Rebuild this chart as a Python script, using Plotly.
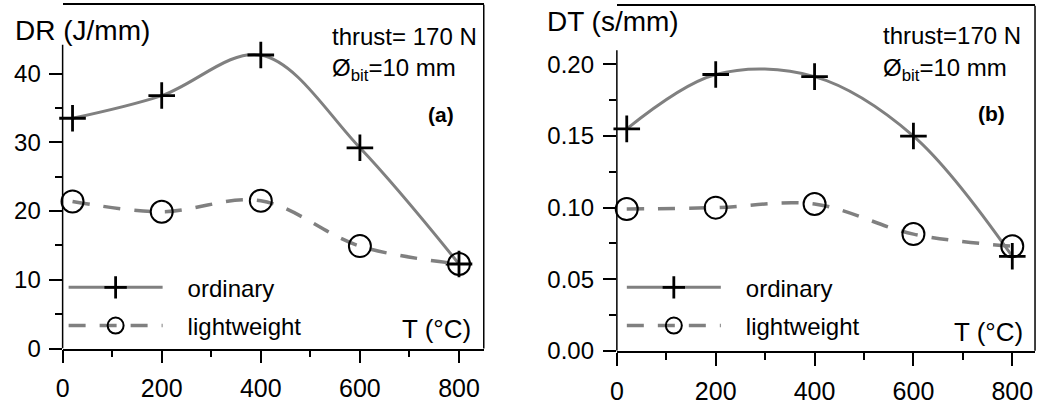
import plotly.graph_objects as go

# ---- data ----
temps = [20, 200, 400, 600, 800]
dr_ordinary = [33.5, 36.8, 42.7, 29.2, 12.3]
dr_lightweight = [21.4, 19.9, 21.5, 14.9, 12.3]
dt_ordinary = [0.155, 0.193, 0.1915, 0.150, 0.066]
dt_lightweight = [0.099, 0.100, 0.1025, 0.0815, 0.073]

x_ticks = [0, 200, 400, 600, 800]
x_minor = [100, 300, 500, 700]
dr_ticks = [0, 10, 20, 30, 40]
dr_minor = [5, 15, 25, 35]
dt_ticks = [0.00, 0.05, 0.10, 0.15, 0.20]
dt_tick_text = ["0.00", "0.05", "0.10", "0.15", "0.20"]
dt_minor = [0.025, 0.075, 0.125, 0.175]

W, H = 1038, 408
FONT = "Liberation Sans, Arial, sans-serif"
GRAY = "#808080"


def px(x):
    return x / W


def py(y):
    return 1 - y / H


fig = go.Figure()

def add_pair(xa, ya, ordv, lightv, legend_name):
    fig.add_trace(go.Scatter(
        x=temps, y=ordv, mode="lines+markers", name="&nbsp;&nbsp;&nbsp;ordinary",
        xaxis=xa, yaxis=ya, legend=legend_name, legendgroup=legend_name + "o",
        line=dict(color=GRAY, width=3, shape="spline"),
        marker=dict(symbol="cross-thin", size=19, color="black",
                    line=dict(color="black", width=2.8)),
        cliponaxis=False,
    ))
    fig.add_trace(go.Scatter(
        x=temps, y=lightv, mode="lines+markers", name="&nbsp;&nbsp;&nbsp;lightweight",
        xaxis=xa, yaxis=ya, legend=legend_name, legendgroup=legend_name + "l",
        line=dict(color=GRAY, width=3.5, shape="spline", dash="17px,14px"),
        marker=dict(symbol="circle-open", size=22, color="black",
                    line=dict(color="black", width=2)),
        cliponaxis=False,
    ))

add_pair("x", "y", dr_ordinary, dr_lightweight, "legend")
add_pair("x2", "y2", dt_ordinary, dt_lightweight, "legend2")

tick_common = dict(ticks="outside", ticklen=13, tickwidth=1.5, tickcolor="black",
                   showgrid=False, zeroline=False)
minor_x = dict(tickvals=x_minor, ticks="outside", ticklen=7, tickwidth=1.5,
               tickcolor="black", showgrid=False)

fig.update_layout(
    width=W, height=H,
    margin=dict(l=0, r=0, t=0, b=0),
    plot_bgcolor="white", paper_bgcolor="white",
    font=dict(family=FONT, color="black", size=24),
    xaxis=dict(domain=[px(56), px(480)], range=[0, 850], anchor="y",
               tickvals=x_ticks, tickfont=dict(size=25), minor=minor_x,
               ticklabelstandoff=4,
               showline=True, mirror=True, linecolor="black", linewidth=1.5,
               **tick_common),
    yaxis=dict(domain=[py(360), py(5)], range=[0, 50], anchor="x",
               tickvals=dr_ticks, tickfont=dict(size=24), ticklabelstandoff=3,
               minor=dict(tickvals=dr_minor, ticks="outside", ticklen=7,
                          tickwidth=1.5, tickcolor="black", showgrid=False),
               showline=False, **tick_common),
    xaxis2=dict(domain=[px(614), px(1035)], range=[0, 846], anchor="y2",
                tickvals=x_ticks, tickfont=dict(size=25), minor=minor_x,
                ticklabelstandoff=4,
                showline=True, mirror=True, linecolor="black", linewidth=1.5,
                **tick_common),
    yaxis2=dict(domain=[py(362.3), py(6)], range=[0, 0.241], anchor="x2",
                tickvals=dt_ticks, ticktext=dt_tick_text, tickfont=dict(size=24),
                ticklabelstandoff=4,
                minor=dict(tickvals=dt_minor, ticks="outside", ticklen=7,
                           tickwidth=1.5, tickcolor="black", showgrid=False),
                showline=False, **tick_common),
    legend=dict(x=px(57), y=py(274), xanchor="left", yanchor="top",
                bgcolor="rgba(0,0,0,0)", font=dict(size=24), itemwidth=94,
                traceorder="grouped", tracegroupgap=4),
    legend2=dict(x=px(619), y=py(274), xanchor="left", yanchor="top",
                 bgcolor="rgba(0,0,0,0)", font=dict(size=24), itemwidth=94,
                 traceorder="grouped", tracegroupgap=4),
    showlegend=True,
)

# frame pieces: partial left axis line and right border
line_style = dict(color="black", width=1.5)
fig.add_shape(type="line", xref="x domain", yref="y", x0=0, x1=0, y0=0, y1=44.2, line=line_style)
fig.add_shape(type="line", xref="x domain", yref="y domain", x0=1, x1=1, y0=0, y1=1, line=line_style)
fig.add_shape(type="line", xref="x2 domain", yref="y2", x0=0, x1=0, y0=0, y1=0.21, line=line_style)
fig.add_shape(type="line", xref="x2 domain", yref="y2 domain", x0=1, x1=1, y0=0, y1=1, line=line_style)

def ann(text, x, y, size, xanchor="left", bold=False):
    fig.add_annotation(text=f"<b>{text}</b>" if bold else text, x=px(x), y=py(y),
                       xref="paper", yref="paper", xanchor=xanchor, yanchor="middle",
                       showarrow=False, font=dict(size=size, family=FONT, color="black"))

ann("DR (J/mm)", 6, 31, 28)
ann("thrust= 170 N", 325, 38, 24)
ann("Ø<sub>bit</sub>=10 mm", 325, 72, 24)
ann("(a)", 452, 118, 21, xanchor="right", bold=True)
ann("T (°C)", 469, 340, 26, xanchor="right")

ann("DT (s/mm)", 542, 22, 28)
ann("thrust=170 N", 880, 37, 24)
ann("Ø<sub>bit</sub>=10 mm", 880, 72, 24)
ann("(b)", 1007, 117, 21, xanchor="right", bold=True)
ann("T (°C)", 1025, 343, 26, xanchor="right")

fig.write_html("out.html")
